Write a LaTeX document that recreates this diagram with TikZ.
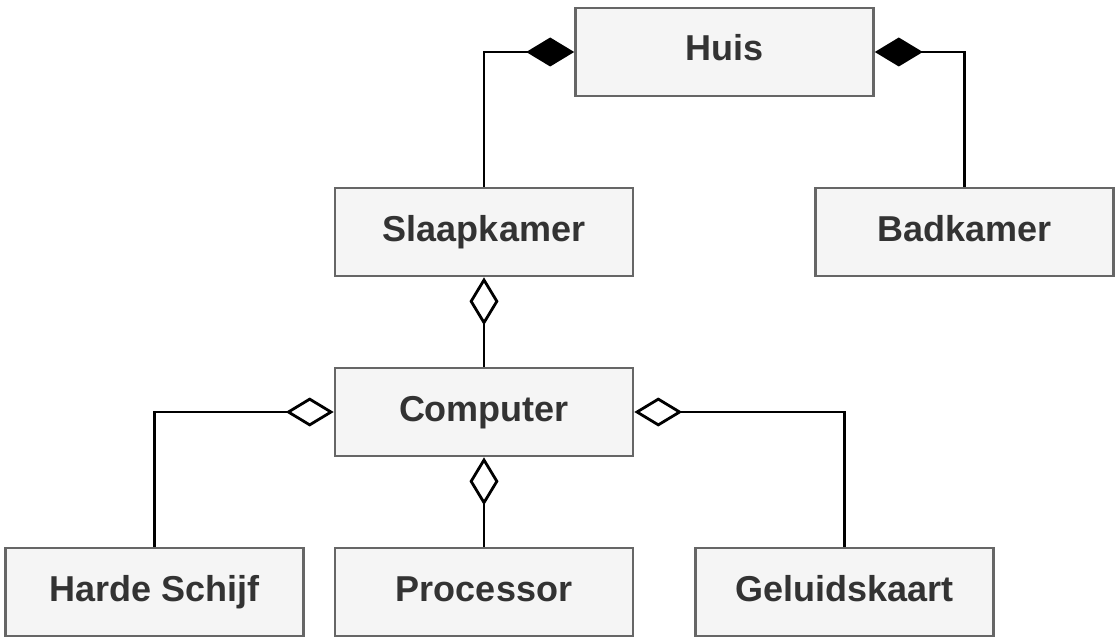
\documentclass[tikz,border=0pt]{standalone}
\usepackage{fontspec}
\setmainfont{Liberation Sans}
\usetikzlibrary{positioning,arrows.meta}
\definecolor{rand}{HTML}{666666}
\definecolor{vulling}{HTML}{F5F5F5}
\definecolor{tekst}{HTML}{333333}

\begin{document}
\begin{tikzpicture}[x=1pt, y=-1pt,
    klasse/.style={draw=rand, line width=2.6pt, fill=vulling, text=tekst,
                   minimum width=298pt, minimum height=88pt, inner sep=0pt,
                   text height=25pt, text depth=7pt,
                   font=\fontsize{36}{42}\selectfont\bfseries},
    verbinding/.style={line width=2.8pt, black},
    compositie/.style={verbinding, -{Diamond[length=48pt, width=29pt]}},
    aggregatie/.style={verbinding, -{Diamond[open, fill=white, length=48pt, width=29pt]}}]
        \useasboundingbox (0,0) rectangle (1119,642);
        \node[klasse] (huis) at (724.5,52) {Huis};
        \node[klasse] (slaapkamer) at (484,232) {Slaapkamer};
        \node[klasse] (badkamer) at (964.5,232) {Badkamer};
        \node[klasse] (computer) at (484,412) {Computer};
        \node[klasse] (schijf) at (154.5,592) {Harde Schijf};
        \node[klasse] (processor) at (484,592) {Processor};
        \node[klasse] (geluid) at (844.5,592) {Geluidskaart};
        % compositie
        \draw[compositie] (slaapkamer.north) |- (huis.west);
        \draw[compositie] (badkamer.north) |- (huis.east);
        % aggregatie
        \draw[aggregatie] (computer.north) -- (slaapkamer.south);
        \draw[aggregatie] (schijf.north) |- (computer.west);
        \draw[aggregatie] (geluid.north) |- (computer.east);
        \draw[aggregatie] (processor.north) -- (computer.south);
      \end{tikzpicture}
\end{document}
